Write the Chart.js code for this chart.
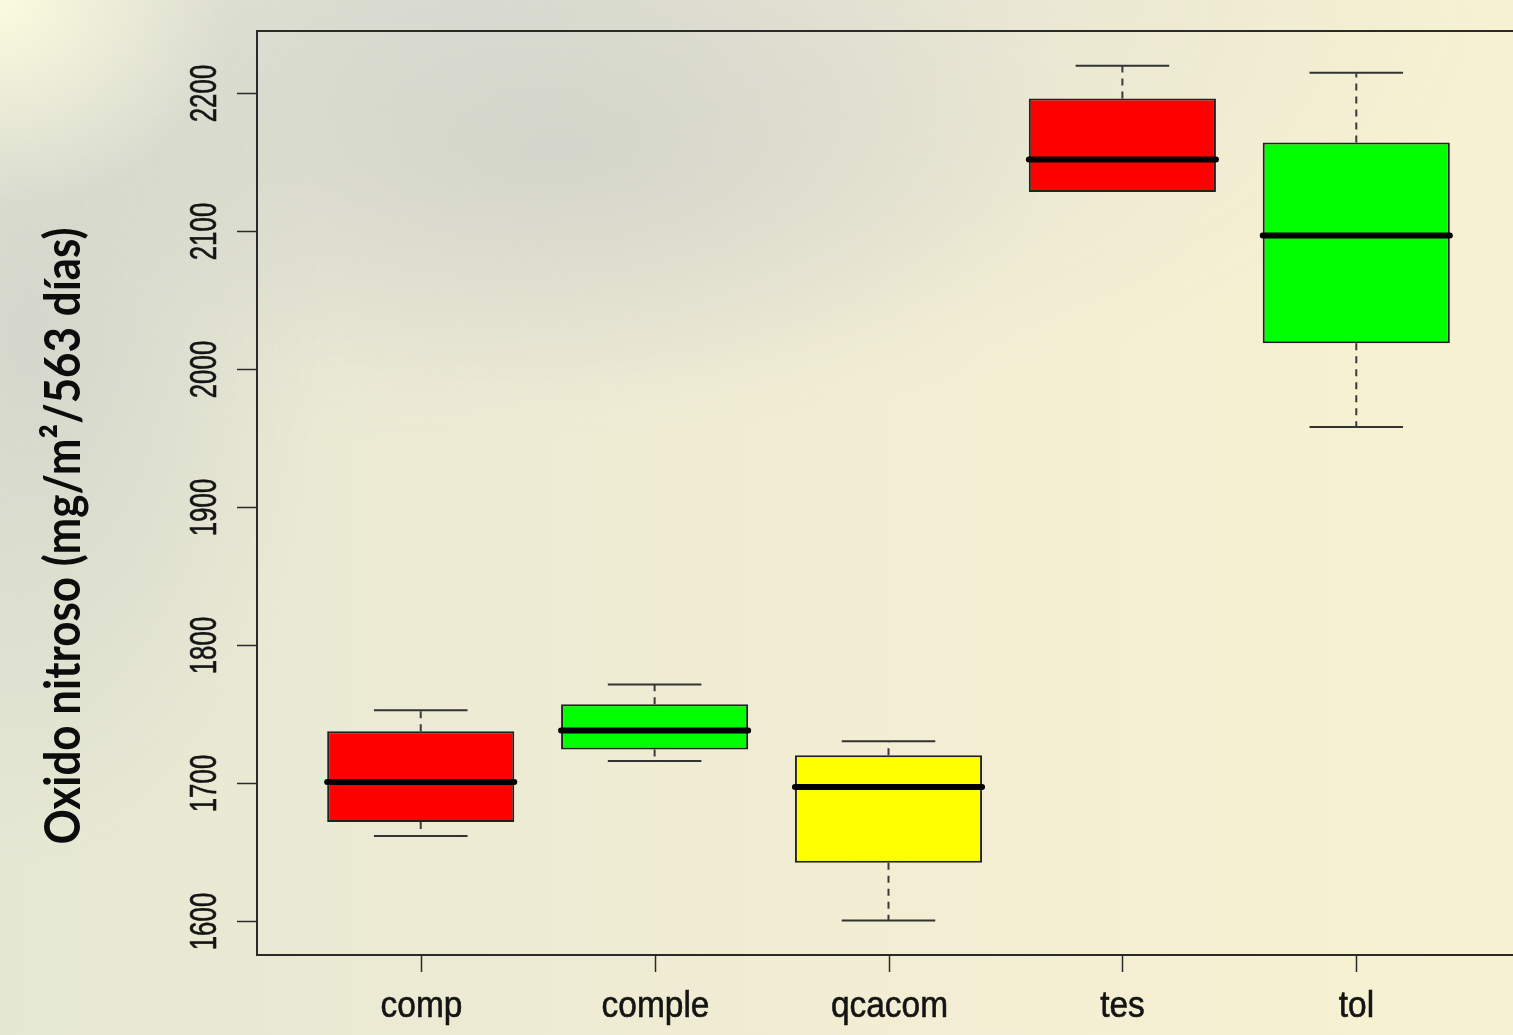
<!DOCTYPE html>
<html lang="es">
<head>
<meta charset="utf-8">
<title>Oxido nitroso por tratamiento</title>
<script src="https://cdn.jsdelivr.net/npm/chart.js@4.4.1/dist/chart.umd.min.js"></script>
<style>
  html, body { margin: 0; padding: 0; width: 1513px; height: 1035px; overflow: hidden; }
  body {
    background:
      radial-gradient(ellipse 230px 210px at 0px 0px, rgba(250,251,222,1), rgba(250,251,222,0)),
      radial-gradient(ellipse 520px 250px at 560px 150px, rgba(206,208,199,0.7), rgba(206,208,199,0)),
      radial-gradient(ellipse 300px 520px at 30px 340px, rgba(210,212,203,0.85), rgba(210,212,203,0)),
      radial-gradient(ellipse 1050px 440px at 450px 0px, rgba(218,219,211,0.85), rgba(218,219,211,0)),
      linear-gradient(90deg, #e5e8d3 0%, #eeebd4 35%, #f4efd3 70%, #f7f2d1 100%);
  }
  #wrap { position: absolute; left: 0; top: 0; width: 1530px; height: 1035px; }
</style>
</head>
<body>
<div id="wrap"><canvas id="chart" width="1530" height="1035"></canvas></div>
<script>
// Nitrous oxide emission per treatment (five-number summaries for the boxplot)
const categories   = ['comp', 'comple', 'qcacom', 'tes', 'tol'];
const whiskerLow   = [1661.2, 1715.7, 1600.0, 2128.3, 1957.9];
const lowerQuart   = [1671.4, 1724.0, 1641.9, 2128.3, 2018.6];
const medians      = [1700.5, 1737.8, 1696.8, 2151.8, 2096.8];
const upperQuart   = [1737.3, 1756.9, 1719.9, 2196.1, 2164.2];
const whiskerHigh  = [1752.5, 1771.2, 1730.0, 2219.8, 2214.7];
const boxColors    = ['#ff0000', '#00ff00', '#ffff00', '#ff0000', '#00ff00'];
const yTickValues  = [1600, 1700, 1800, 1900, 2000, 2100, 2200];
const yTitle       = 'Oxido nitroso (mg/m\u00b2/563 d\u00edas)';

const BOX_HALF = 0.4;   // half box width, in x units
const CAP_HALF = 0.2;   // half whisker-cap width, in x units

const pos = categories.map((_, i) => i + 1);

// dashed whisker stems: q3 -> max and q1 -> min
const stemPoints = [];
pos.forEach((x, i) => {
  stemPoints.push({ x, y: upperQuart[i] }, { x, y: whiskerHigh[i] }, { x, y: null });
  stemPoints.push({ x, y: lowerQuart[i] }, { x, y: whiskerLow[i] }, { x, y: null });
});

// horizontal caps at the whisker ends (a zero-length whisker sits under the box edge)
const capPoints = [];
pos.forEach((x, i) => {
  if (whiskerHigh[i] > upperQuart[i]) {
    capPoints.push({ x: x - CAP_HALF, y: whiskerHigh[i] }, { x: x + CAP_HALF, y: whiskerHigh[i] }, { x, y: null });
  }
  if (whiskerLow[i] < lowerQuart[i]) {
    capPoints.push({ x: x - CAP_HALF, y: whiskerLow[i] }, { x: x + CAP_HALF, y: whiskerLow[i] }, { x, y: null });
  }
});

// median bars
const medianPoints = [];
pos.forEach((x, i) => {
  medianPoints.push({ x: x - BOX_HALF, y: medians[i] }, { x: x + BOX_HALF, y: medians[i] }, { x, y: null });
});

// boxes as floating bars from q1 to q3
const boxData = pos.map((x, i) => ({ x, y: [lowerQuart[i], upperQuart[i]] }));

const TEXT = '#141414';
const AXIS = '#2a2a2a';

// frame, ticks and labels drawn from the chart's own scales
const axesPlugin = {
  id: 'rAxes',
  afterDraw(chart) {
    const { ctx, chartArea: a } = chart;
    const xs = chart.scales.x, ys = chart.scales.y;
    ctx.save();
    ctx.strokeStyle = AXIS;
    ctx.lineWidth = 2;
    ctx.strokeRect(a.left, a.top, a.right - a.left, a.bottom - a.top);

    // y ticks + rotated labels
    ctx.fillStyle = TEXT;
    ctx.textAlign = 'center';
    ctx.textBaseline = 'alphabetic';
    ys.ticks.forEach(t => {
      const py = Math.round(ys.getPixelForValue(t.value)) + 0.5;
      ctx.strokeStyle = AXIS;
      ctx.lineWidth = 1.5;
      ctx.beginPath();
      ctx.moveTo(a.left - 20, py);
      ctx.lineTo(a.left, py);
      ctx.stroke();
      ctx.save();
      ctx.translate(a.left - 41, py);
      ctx.rotate(-Math.PI / 2);
      ctx.scale(0.7, 1);
      ctx.font = '37px "Liberation Sans", Arial, sans-serif';
      ctx.strokeStyle = TEXT;
      ctx.lineWidth = 0.6;
      ctx.fillText(String(t.value), 0, 0);
      ctx.strokeText(String(t.value), 0, 0);
      ctx.restore();
    });

    // x ticks + category labels
    xs.ticks.forEach(t => {
      const px = Math.round(xs.getPixelForValue(t.value)) + 0.5;
      ctx.strokeStyle = AXIS;
      ctx.lineWidth = 1.5;
      ctx.beginPath();
      ctx.moveTo(px, a.bottom);
      ctx.lineTo(px, a.bottom + 17);
      ctx.stroke();
      ctx.save();
      ctx.translate(px, a.bottom + 62);
      ctx.scale(0.93, 1);
      ctx.font = '36px "Liberation Sans", Arial, sans-serif';
      ctx.strokeStyle = TEXT;
      ctx.lineWidth = 0.6;
      const label = categories[t.value - 1];
      ctx.fillText(label, 0, 0);
      ctx.strokeText(label, 0, 0);
      ctx.restore();
    });

    // y-axis title
    ctx.font = 'bold 50px Lato, "Open Sans", sans-serif';
    const w = ctx.measureText(yTitle).width;
    ctx.save();
    ctx.translate(80, 536);
    ctx.rotate(-Math.PI / 2);
    ctx.scale(617 / w, 1);
    ctx.fillStyle = '#0c0c0c';
    ctx.fillText(yTitle, 0, 0);
    ctx.restore();
    ctx.restore();
  }
};

new Chart(document.getElementById('chart'), {
  data: {
    datasets: [
      {
        type: 'line', data: stemPoints, order: 3,
        borderColor: '#3a3a3a', borderWidth: 2, borderDash: [7, 6],
        pointRadius: 0, spanGaps: false, tension: 0
      },
      {
        type: 'line', data: capPoints, order: 3,
        borderColor: '#333333', borderWidth: 2,
        pointRadius: 0, spanGaps: false, tension: 0
      },
      {
        type: 'bar', data: boxData, order: 2,
        backgroundColor: boxColors, borderColor: '#222222', borderWidth: 2,
        borderSkipped: false, barPercentage: 0.8, categoryPercentage: 1.0
      },
      {
        type: 'line', data: medianPoints, order: 1,
        borderColor: '#000000', borderWidth: 6, borderCapStyle: 'round',
        pointRadius: 0, spanGaps: false, tension: 0
      }
    ]
  },
  options: {
    responsive: false,
    animation: false,
    devicePixelRatio: 1,
    layout: { padding: { left: 257, top: 31, right: 10, bottom: 80 } },
    plugins: { legend: { display: false }, tooltip: { enabled: false } },
    scales: {
      x: {
        type: 'linear', display: false, min: 0.3, max: 5.7, offset: false,
        afterBuildTicks: s => { s.ticks = pos.map(v => ({ value: v })); }
      },
      y: {
        type: 'linear', display: false, min: 1575, max: 2245,
        afterBuildTicks: s => { s.ticks = yTickValues.map(v => ({ value: v })); }
      }
    }
  },
  plugins: [axesPlugin]
});
</script>
</body>
</html>
